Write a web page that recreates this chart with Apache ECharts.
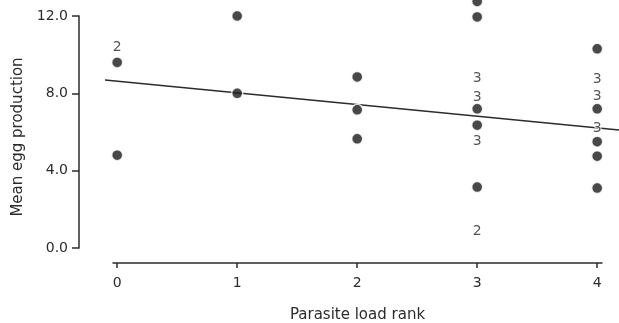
<!DOCTYPE html>
<html>
<head>
<meta charset="utf-8">
<script src="https://cdn.jsdelivr.net/npm/echarts@6/dist/echarts.min.js"></script>
<style>html,body{margin:0;padding:0;background:#fff}#c{width:619px;height:323px}</style>
</head>
<body>
<div id="c"></div>
<script>
// Individual observations (rank, mean egg production)
var dotPoints = [
  [0, 9.6], [0, 4.8],
  [1, 12.0], [1, 8.0],
  [2, 8.85], [2, 7.15], [2, 5.65],
  [3, 12.75], [3, 11.95], [3, 7.2], [3, 6.35], [3, 3.15],
  [4, 10.3], [4, 7.2], [4, 5.5], [4, 4.75], [4, 3.1]
];
// Coincident observations plotted as counts (rank, value, count)
var countPoints = [
  [0, 10.4, 2],
  [3, 8.75, 3], [3, 7.8, 3], [3, 5.5, 3], [3, 0.85, 2],
  [4, 8.7, 3], [4, 7.85, 3], [4, 6.2, 3]
];
// Fitted regression line end points
var fitLine = [[-0.1, 8.69], [4.18, 6.1]];
var xTicks = [0, 1, 2, 3, 4];
var yTicks = [0, 4, 8, 12];

var FONT = '"DejaVu Sans", "Liberation Sans", Arial, sans-serif';
var INK = '#2b2b2b';
var chart = echarts.init(document.getElementById('c'), null, {renderer: 'canvas'});
chart.setOption({
  animation: false,
  backgroundColor: '#fff',
  grid: [
    {left: 113, right: 17, top: 16, bottom: 75, containLabel: false, outerBoundsMode: 'none'},
    // wider hidden grid, same scale, so the fitted line can run past the axis ends
    {left: 105, right: 0, top: 16, bottom: 75, containLabel: false, outerBoundsMode: 'none'}
  ],
  xAxis: [{
    type: 'value', gridIndex: 0, min: -0.035, max: 4.04, offset: 15,
    name: 'Parasite load rank', nameLocation: 'middle', nameGap: 45,
    nameTextStyle: {fontFamily: FONT, fontSize: 15, color: INK},
    splitLine: {show: false},
    axisLine: {show: true, onZero: false, lineStyle: {color: INK, width: 1.5}},
    axisTick: {show: true, inside: false, length: 5, customValues: xTicks, lineStyle: {color: INK, width: 1.5}},
    axisLabel: {customValues: xTicks, margin: 13, fontFamily: FONT, fontSize: 14, color: INK,
      formatter: function (v) { return String(v); }}
  }, {
    type: 'value', gridIndex: 1, min: -0.1, max: 4.18, show: false, splitLine: {show: false}
  }],
  yAxis: [{
    type: 'value', gridIndex: 0, min: 0, max: 12, offset: 34,
    name: 'Mean egg production', nameLocation: 'middle', nameGap: 53, nameRotate: 90,
    nameTextStyle: {fontFamily: FONT, fontSize: 15, color: INK, padding: [0, 10, 0, 0]},
    splitLine: {show: false},
    axisLine: {show: true, onZero: false, lineStyle: {color: INK, width: 1.5}},
    axisTick: {show: true, inside: false, length: 7, customValues: yTicks, lineStyle: {color: INK, width: 1.5}},
    axisLabel: {customValues: yTicks, margin: 11, fontFamily: FONT, fontSize: 14, color: INK,
      formatter: function (v) { return v.toFixed(1); }}
  }, {
    type: 'value', gridIndex: 1, min: 0, max: 12, show: false, splitLine: {show: false}
  }],
  series: [
    {
      type: 'line', xAxisIndex: 1, yAxisIndex: 1, data: fitLine, clip: false, symbol: 'none', z: 1,
      lineStyle: {color: INK, width: 1.5}
    },
    {
      type: 'scatter', data: dotPoints, clip: false, symbol: 'circle', symbolSize: 11, z: 3,
      itemStyle: {color: '#1a1a1a', borderColor: '#fff', borderWidth: 1.5}
    },
    {
      type: 'scatter', data: countPoints, clip: false, symbol: 'circle', symbolSize: 12, z: 4,
      itemStyle: {color: 'rgba(0,0,0,0)'},
      label: {
        show: true, position: 'inside', fontFamily: FONT, fontSize: 14, color: INK,
        textBorderColor: '#fff', textBorderWidth: 2,
        formatter: function (p) { return String(p.value[2]); }
      }
    }
  ]
});
</script>
</body>
</html>
